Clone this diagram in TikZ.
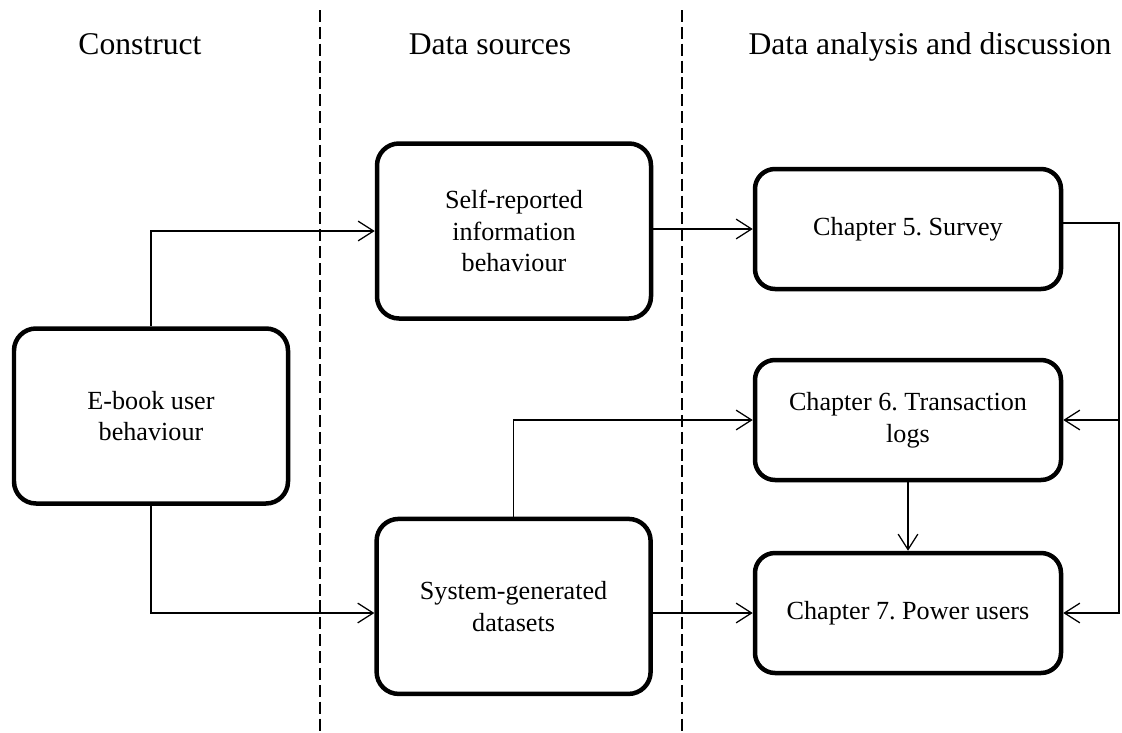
\documentclass[tikz,border=0pt]{standalone}
\usepackage{fontspec}
\setmainfont{Liberation Serif}
\usetikzlibrary{arrows.meta}
\frenchspacing

\tikzset{
	box/.style={draw, line width=3.2pt, rounded corners=0.55cm, align=center,
		font=\fontsize{18.6}{22.4}\selectfont, inner sep=2pt},
	bigbox/.style={box, minimum width=6.85cm, minimum height=4.375cm},
	chbox/.style={box, minimum width=7.65cm, minimum height=3cm, rounded corners=0.5cm},
	link/.style={line width=0.9pt, -{Straight Barb[length=11pt,width=14pt,line width=0.9pt]}},
	lane/.style={line width=0.9pt, dash pattern=on 8.5pt off 3.5pt},
	head/.style={font=\fontsize{22.5}{27}\selectfont, anchor=base}
}

\begin{document}
\begin{tikzpicture}
	\useasboundingbox (0,0) rectangle (28.05,-18.325);

	% column headers and lanes
	\node[head] (construct) at (3.5,-1.35) {Construct};
	\node[head] (sources) at (12.25,-1.35) {Data sources};
	\node[head] (analysis) at (23.25,-1.35) {Data analysis and discussion};
	\draw[lane] (8,-0.25) -- (8,-18.325);
	\draw[lane] (17.05,-0.25) -- (17.05,-18.325);

	% boxes
	\node[bigbox] (ebook) at (3.775,-10.4) {E-book user\\behaviour};
	\node[bigbox] (self) at (12.85,-5.775) {Self-reported\\information\\behaviour};
	\node[bigbox] (sys) at (12.84,-15.16) {System-generated\\datasets};
	\node[chbox] (ch5) at (22.7,-5.725) {Chapter 5. Survey};
	\node[chbox] (ch6) at (22.7,-10.5) {Chapter 6. Transaction\\logs};
	\node[chbox] (ch7) at (22.7,-15.325) {Chapter 7. Power users};
	\coordinate (bus) at (27.975,-5.575);

	% connectors
	\draw[link] (ebook.north) |- (self.west);
	\draw[link] (ebook.south) |- (sys.west |- ch7.west);
	\draw[link] (self.east |- ch5.west) -- (ch5.west);
	\draw[link] (sys.north) |- (ch6.west);
	\draw[link] (sys.east |- ch7.west) -- (ch7.west);
	\draw[link] (ch6.south) -- (ch7.north);
	\draw[link] (ch5.east |- bus) -- (bus) |- (ch7.east);
	\draw[link] (bus |- ch6.east) -- (ch6.east);
\end{tikzpicture}
\end{document}
